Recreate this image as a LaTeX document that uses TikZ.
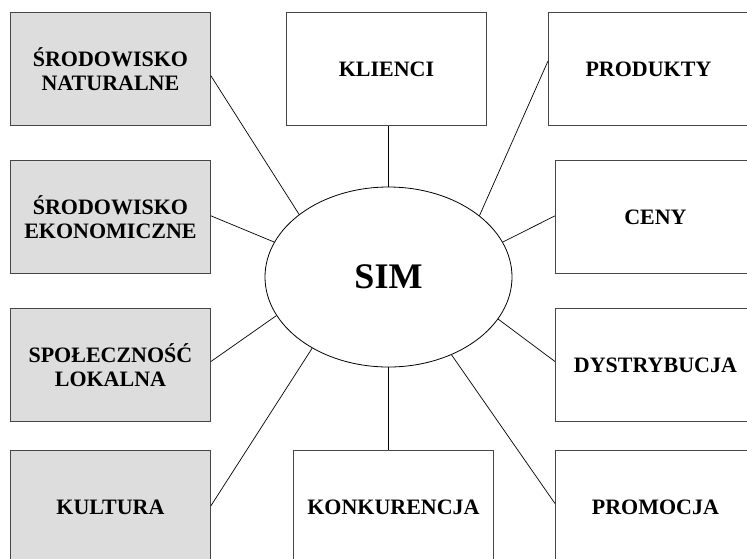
\documentclass[tikz,border=0pt]{standalone}
\usepackage{fontspec}
\setmainfont{Liberation Serif}
\usetikzlibrary{shapes.geometric,calc}
\definecolor{boxgray}{RGB}{221,221,221}
\definecolor{edgegray}{RGB}{70,70,70}
\tikzset{
  box/.style={draw=edgegray, line width=0.9pt, anchor=north west, minimum width=200pt,
    minimum height=113pt, inner sep=0pt, align=center,
    font=\fontsize{22}{23.5}\selectfont\bfseries},
  env/.style={box, fill=boxgray},
  conn/.style={draw=black, line width=0.7pt},
}
\begin{document}
\begin{tikzpicture}[x=1pt,y=-1pt]
\useasboundingbox (0,0) rectangle (747,558);
\clip (0,0) rectangle (747,558);
\fill[white] (0,0) rectangle (747,558);
% left column
\node[env] (nat) at (10,12) {ŚRODOWISKO\\NATURALNE};
\node[env] (eko) at (10,160) {ŚRODOWISKO\\EKONOMICZNE};
\node[env] (spo) at (10,308) {SPOŁECZNOŚĆ\\LOKALNA};
\node[env] (kul) at (10,450) {KULTURA};
% middle
\node[box] (kli) at (286,12) {KLIENCI};
\node[box] (kon) at (293,450) {KONKURENCJA};
% right column
\node[box] (pro) at (548,12) {PRODUKTY};
\node[box] (cen) at (555,160) {CENY};
\node[box] (dys) at (555,308) {DYSTRYBUCJA};
\node[box] (prm) at (555,450) {PROMOCJA};
% centre
\node[ellipse, draw=black, line width=0.8pt, minimum width=247pt, minimum height=180pt,
  inner sep=0pt, font=\fontsize{36}{36}\selectfont\bfseries] (sim) at (388.5,277) {SIM};
% connectors
\draw[conn] ($(nat.north east)!0.56!(nat.south east)$) -- (sim.145);
\draw[conn] ($(eko.north east)!0.49!(eko.south east)$) -- (sim.163);
\draw[conn] ($(spo.north east)!0.47!(spo.south east)$) -- (sim.199);
\draw[conn] ($(kul.north east)!0.49!(kul.south east)$) -- (sim.223);
\draw[conn] (sim.north) -- (sim.north |- kli.south);
\draw[conn] (sim.south) -- (sim.south |- kon.north);
\draw[conn] ($(pro.north west)!0.43!(pro.south west)$) -- (sim.34.5);
\draw[conn] ($(cen.north west)!0.49!(cen.south west)$) -- (sim.17);
\draw[conn] ($(dys.north west)!0.47!(dys.south west)$) -- (sim.-21.5);
\draw[conn] ($(prm.north west)!0.47!(prm.south west)$) -- (sim.-51);
\end{tikzpicture}
\end{document}
